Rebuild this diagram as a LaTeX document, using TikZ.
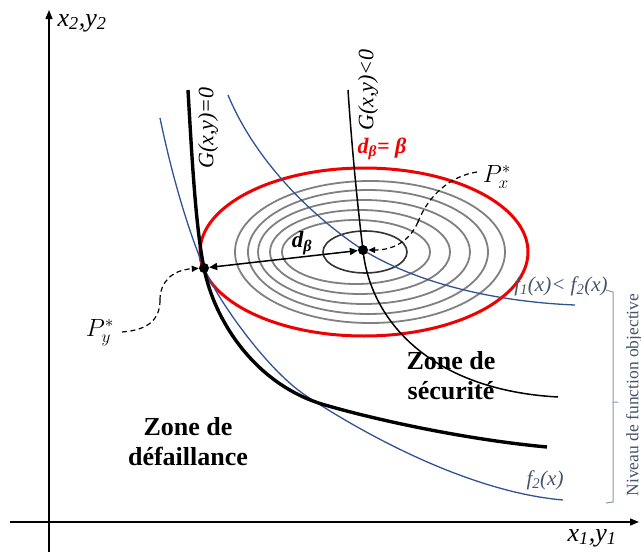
\documentclass[tikz,border=0pt]{standalone}
\usepackage{fontspec}
\setmainfont{Liberation Serif}
\usetikzlibrary{arrows.meta}
\definecolor{curveblue}{RGB}{50,82,150}
\definecolor{slate}{RGB}{68,84,106}
\definecolor{brack}{RGB}{132,151,176}
\definecolor{cgray}{RGB}{128,128,128}
\definecolor{redline}{RGB}{240,0,0}
\begin{document}
\begin{tikzpicture}[x=1pt,y=-1pt,
  axis/.style={line width=1.4pt,-{Triangle[length=9pt,width=7pt]}},
  contour/.style={cgray,line width=1.8pt},
  innercontour/.style={black!80,line width=1.6pt},
  redell/.style={redline,line width=3pt},
  thickG/.style={black,line width=3.4pt},
  thinG/.style={black,line width=1.5pt},
  fcurve/.style={curveblue,line width=1.3pt},
  dot/.style={circle,fill=black,inner sep=0pt,minimum size=10pt},
  dbl/.style={line width=1.5pt,{Triangle[length=8pt,width=7pt]}-{Triangle[length=8pt,width=7pt]}},
  dashline/.style={dash pattern=on 5pt off 3.5pt,line width=1.2pt},
  dashlead/.style={dashline,-{Triangle[length=7pt,width=6pt]}},
  lbl/.style={inner sep=0pt},
  zone/.style={inner sep=0pt,align=center,font=\fontsize{26}{30}\selectfont\bfseries},
  brace/.style={brack,line width=1pt}
]
\useasboundingbox (0,0) rectangle (641,554);

% axes
\coordinate (xs) at (10,522);
\coordinate (xe) at (639,522);
\coordinate (ys) at (49,552);
\coordinate (ye) at (49,10);
\draw[axis] (xs) -- (xe);
\draw[axis] (ys) -- (ye);
\node[lbl,font=\fontsize{26}{30}\selectfont] (ylab) at (82,23) {\textit{x\textsubscript{2},y\textsubscript{2}}};
\node[lbl,font=\fontsize{26}{30}\selectfont] (xlab) at (592,538) {\textit{x\textsubscript{1},y\textsubscript{1}}};

% contours
\draw[contour] (370,252) ellipse [x radius=135pt, y radius=71pt];
\draw[contour] (368,252) ellipse [x radius=120pt, y radius=62pt];
\draw[contour] (364,252) ellipse [x radius=106pt, y radius=52pt];
\draw[contour] (360,252) ellipse [x radius=90pt, y radius=42pt];
\draw[contour] (356,252) ellipse [x radius=74pt, y radius=32pt];
\draw[innercontour] (365,252) ellipse [x radius=42pt, y radius=21pt];

% red ellipse
\draw[redell] (364,252) ellipse [x radius=164pt, y radius=84pt];

% blue curves
\draw[fcurve] (228,95) .. controls (255,160) and (310,215) .. (363,250)
  .. controls (420,285) and (500,302) .. (575,305);
\draw[fcurve] (160,118) .. controls (175,190) and (192,239) .. (204,268)
  .. controls (216,297) and (265,368) .. (305,395)
  .. controls (365,435) and (470,492) .. (563,500);

% G curves
\draw[thickG] (188,90) .. controls (192,160) and (196,230) .. (204,268)
  .. controls (214,320) and (255,385) .. (325,405)
  .. controls (380,421) and (470,440) .. (547,447);
\draw[thinG] (348,90) .. controls (352,150) and (358,210) .. (363,250)
  .. controls (370,320) and (430,390) .. (558,397);

% labels on curves
\node[lbl,rotate=90,font=\fontsize{22}{26}\selectfont] (g0) at (208,128) {\textit{G(x,y)=0}};
\node[lbl,rotate=90,font=\fontsize{22}{26}\selectfont] (g1) at (368,90) {\textit{G(x,y)<0}};
\node[lbl,text=redline,font=\fontsize{22}{26}\selectfont] (dbeq) at (382,149) {\textbf{\textit{d\textsubscript{β}= β}}};
\node[lbl,text=slate,font=\fontsize{21}{25}\selectfont] (f1lab) at (561,286) {\textit{f\textsubscript{1}(x)< f\textsubscript{2}(x)}};
\node[lbl,text=slate,font=\fontsize{21}{25}\selectfont] (f2lab) at (545,480) {\textit{f\textsubscript{2}(x)}};

% points
\node[dot] (Py) at (204,268) {};
\node[dot] (Px) at (363,250) {};
\draw[dbl] (Py) -- (Px);
\node[lbl,font=\fontsize{23}{26}\selectfont] (db) at (302,243) {\textbf{\textit{d\textsubscript{β}}}};

% P labels and dashed leaders
\node[lbl,font=\fontsize{24}{28}\selectfont] (Pxl) at (497,177) {$P_x^*$};
\node[lbl,font=\fontsize{24}{28}\selectfont] (Pyl) at (100,333) {$P_y^*$};
\coordinate (pxm) at (418,222);
\coordinate (pym) at (160,300);
\draw[dashline] (477,172) .. controls (450,176) and (428,196) .. (pxm);
\draw[dashlead] (pxm) .. controls (410,240) and (395,250) .. (Px);
\draw[dashline] (122,332) .. controls (150,330) and (160,318) .. (pym);
\draw[dashlead] (pym) .. controls (160,282) and (172,270) .. (Py);

% zones
\node[zone] (zd) at (188,442) {Zone de\\défaillance};
\node[zone] (zs) at (451,376) {Zone de\\sécurité};

% bracket
\draw[brace] (606,290) -- (613,292) -- (613,402) -- (618,402);
\draw[brace] (613,402) -- (613,502) -- (606,503);
\node[lbl,rotate=90,text=slate,font=\fontsize{17.5}{20}\selectfont] (niv) at (634,395) {Niveau de function objective};
\end{tikzpicture}
\end{document}
